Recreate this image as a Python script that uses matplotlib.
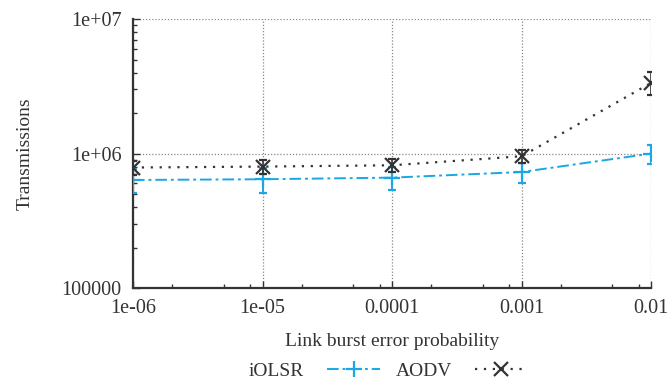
import matplotlib
matplotlib.use("Agg")
import matplotlib.pyplot as plt
import matplotlib.ticker as mticker
from matplotlib.lines import Line2D
import numpy as np

plt.rcParams['font.family'] = ['Liberation Serif', 'DejaVu Serif']

x = [1e-6, 1e-5, 1e-4, 1e-3, 1e-2]
iolsr = [636000, 644000, 662000, 729000, 1000000]
iolsr_err = [130000, 132000, 130000, 128000, 165000]
aodv = [787000, 800000, 818000, 955000, 3360000]
aodv_err = [90000, 95000, 90000, 110000, 650000]

fig = plt.figure(figsize=(6.68, 3.81), dpi=100)
ax = fig.add_axes([0.199, 0.244, 0.776, 0.706])

cyan = '#1aa7e6'
dark = '#333333'
txt = '#333333'

iol_ls = (0, (6, 2, 1.5, 2))
aodv_ls = (0, (1, 3))

ax.errorbar(x, iolsr, yerr=iolsr_err, color=cyan, linestyle=iol_ls,
            linewidth=1.4, marker='+', markersize=11, markeredgewidth=1.6,
            capsize=3, elinewidth=1.4, capthick=1.4, zorder=3)
ax.errorbar(x, aodv, yerr=aodv_err, color=dark, linestyle=aodv_ls,
            linewidth=1.6, marker='x', markersize=10, markeredgewidth=1.6,
            capsize=3, elinewidth=1.2, capthick=1.2, zorder=4)

ax.set_xscale('log')
ax.set_yscale('log')
ax.set_xlim(1e-6, 1e-2)
ax.set_ylim(1e5, 1e7)

xt = [1e-6, 1e-5, 1e-4, 1e-3, 1e-2]
xl = ['1e-06', '1e-05', '0.0001', '0.001', '0.01']
yt = [1e5, 1e6, 1e7]
yl = ['100000', '1e+06', '1e+07']
ax.xaxis.set_major_locator(mticker.FixedLocator(xt))
ax.set_xticklabels(xl)
ax.yaxis.set_major_locator(mticker.FixedLocator(yt))
ax.set_yticklabels(yl)
ax.xaxis.set_minor_locator(mticker.LogLocator(base=10, subs=[2, 5, 8]))
ax.yaxis.set_minor_locator(mticker.LogLocator(base=10, subs=np.arange(2, 10)))
ax.xaxis.set_minor_formatter(mticker.NullFormatter())
ax.yaxis.set_minor_formatter(mticker.NullFormatter())

ax.grid(True, which='major', linestyle=(0, (1, 1.5)), color='#888888', linewidth=0.9)
ax.set_axisbelow(True)
for s in ['top', 'right']:
    ax.spines[s].set_visible(False)
for s in ['left', 'bottom']:
    ax.spines[s].set_linewidth(1.6)
    ax.spines[s].set_color('#333333')

ax.tick_params(which='major', direction='in', length=5, width=1, colors='#333333',
               labelsize=14.5, labelcolor=txt)
ax.tick_params(axis='x', which='major', pad=8)
ax.tick_params(axis='y', which='major', pad=8)
ax.tick_params(which='minor', direction='in', length=3, width=1, colors='#333333')

ax.set_xlabel('Link burst error probability', fontsize=14, color=txt, labelpad=11)
ax.set_ylabel('Transmissions', fontsize=14, color=txt, labelpad=20)

h1 = Line2D([], [], color=cyan, linestyle=iol_ls, linewidth=1.4, marker='+',
            markersize=11, markeredgewidth=1.6)
h2 = Line2D([], [], color=dark, linestyle=aodv_ls, linewidth=1.6, marker='x',
            markersize=10, markeredgewidth=1.6)
leg = fig.legend([h1, h2], ['iOLSR', 'AODV'], loc='center',
                 bbox_to_anchor=(0.581, 0.026), ncol=2, frameon=False,
                 markerfirst=False, fontsize=14, handlelength=2.7, columnspacing=0.8,
                 handletextpad=1.2)
for t in leg.get_texts():
    t.set_color(txt)

fig.savefig('out.png', dpi=100)
